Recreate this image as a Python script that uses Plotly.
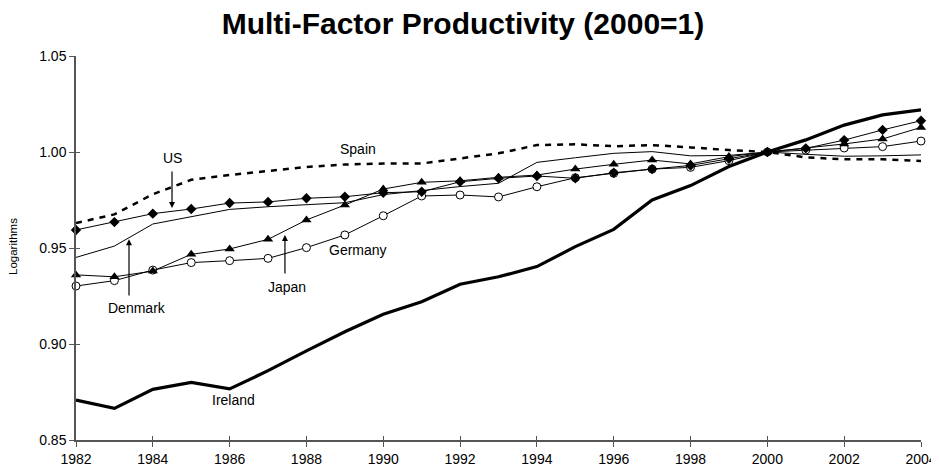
import plotly.graph_objects as go

years = list(range(1982, 2005))

spain = [0.963, 0.9675, 0.978, 0.9855, 0.988, 0.990, 0.9922, 0.9935, 0.9940, 0.9940, 0.9967, 0.9993,
         1.0036, 1.0040, 1.0030, 1.0036, 1.0024, 1.0010, 1.0000, 0.9972, 0.9962, 0.9962, 0.9953]
us = [0.9594, 0.9635, 0.9679, 0.9703, 0.9734, 0.9740, 0.9759, 0.9767, 0.9788, 0.9793, 0.9845, 0.9863,
      0.9875, 0.9863, 0.9892, 0.9911, 0.9930, 0.9965, 1.0000, 1.0019, 1.0062, 1.0115, 1.0163]
japan = [0.9360, 0.9350, 0.9380, 0.9467, 0.9495, 0.9545, 0.9646, 0.9724, 0.9807, 0.9842, 0.9850, 0.9868,
         0.9880, 0.9911, 0.9936, 0.9958, 0.9938, 0.9976, 1.0000, 1.0020, 1.0042, 1.0068, 1.0128]
germany = [0.9302, 0.9330, 0.9385, 0.9424, 0.9434, 0.9446, 0.9502, 0.9568, 0.9668, 0.9771, 0.9776, 0.9766,
           0.9819, 0.9866, 0.9889, 0.9911, 0.9920, 0.9955, 1.0000, 1.0010, 1.0021, 1.0028, 1.0057]
denmark = [0.9451, 0.9510, 0.9625, 0.9663, 0.9701, 0.9715, 0.9726, 0.9736, 0.9778, 0.9800, 0.9820, 0.9837,
           0.9946, 0.9970, 0.9993, 1.0002, 0.9980, 0.9982, 1.0000, 0.9988, 0.9978, 0.9980, 0.9985]
ireland = [0.8708, 0.8665, 0.8764, 0.8800, 0.8766, 0.8861, 0.8964, 0.9064, 0.9155, 0.9220, 0.9311, 0.9350,
           0.9403, 0.9507, 0.9597, 0.9750, 0.9825, 0.9924, 1.0000, 1.0063, 1.0140, 1.0193, 1.0219]

x_ticks = list(range(1982, 2005, 2))
y_ticks = [0.85, 0.90, 0.95, 1.00, 1.05]

FONT = "Arial, Liberation Sans, sans-serif"
W, H = 931, 461  # page body has an 8px margin

fig = go.Figure()
fig.add_trace(go.Scatter(x=years, y=spain, mode="lines", name="Spain",
                         line=dict(color="black", width=2.5, dash="6px,6px"), cliponaxis=False))
fig.add_trace(go.Scatter(x=years, y=denmark, mode="lines", name="Denmark",
                         line=dict(color="black", width=1), cliponaxis=False))
fig.add_trace(go.Scatter(x=years, y=ireland, mode="lines", name="Ireland",
                         line=dict(color="black", width=3.2), cliponaxis=False))
fig.add_trace(go.Scatter(x=years, y=germany, mode="lines+markers", name="Germany",
                         line=dict(color="black", width=1),
                         marker=dict(symbol="circle", size=8, color="white",
                                     line=dict(color="black", width=1)), cliponaxis=False))
fig.add_trace(go.Scatter(x=years, y=japan, mode="lines+markers", name="Japan",
                         line=dict(color="black", width=1),
                         marker=dict(symbol="triangle-up", size=9, color="black"), cliponaxis=False))
fig.add_trace(go.Scatter(x=years, y=us, mode="lines+markers", name="US",
                         line=dict(color="black", width=1),
                         marker=dict(symbol="diamond", size=8, color="black"), cliponaxis=False))
# invisible trace to activate the overlay tick axes
fig.add_trace(go.Scatter(x=[years[0]], y=[spain[0]], xaxis="x2", yaxis="y2", mode="markers",
                         marker=dict(opacity=0), hoverinfo="skip", showlegend=False))

lab_font = dict(family=FONT, size=14, color="black")
annotations = []
for txt, xx, yy in [("US", 1984.5, 0.9968), ("Spain", 1989.35, 1.0016), ("Denmark", 1983.6, 0.919),
                    ("Japan", 1987.5, 0.9297), ("Germany", 1989.35, 0.949), ("Ireland", 1986.1, 0.8708)]:
    annotations.append(dict(x=xx, y=yy, xref="x", yref="y", text=txt, showarrow=False, font=lab_font))
for xx, yy, ax, ay in [(1984.5, 0.9708, 1984.5, 0.9906), (1983.38, 0.9545, 1983.38, 0.9245),
                       (1987.44, 0.9568, 1987.44, 0.9360)]:
    annotations.append(dict(x=xx, y=yy, ax=ax, ay=ay, xref="x", yref="y", axref="x", ayref="y",
                            text="", showarrow=True, arrowhead=2, arrowsize=1, arrowwidth=1.2,
                            arrowcolor="black"))
annotations.append(dict(x=(13 - 76) / 845, y=(440 - 247) / 384, xref="paper", yref="paper",
                        text="Logarithms", textangle=-90, showarrow=False,
                        font=dict(family=FONT, size=11.5, color="black"),
                        xanchor="center", yanchor="middle"))

fig.update_layout(
    width=W, height=H,
    margin=dict(l=68, r=W - 68 - 845, t=48, b=H - 48 - 384),
    paper_bgcolor="white", plot_bgcolor="white",
    showlegend=False,
    title=dict(text="<b>Multi-Factor Productivity (2000=1)</b>", x=455 / W, xanchor="center",
               y=1 - 15 / H, yanchor="middle",
               font=dict(family=FONT, size=30, color="black")),
    font=dict(family=FONT, size=14, color="black"),
    annotations=annotations,
    xaxis=dict(range=[1982, 2004], tickvals=x_ticks, ticktext=[str(t) for t in x_ticks],
               showgrid=False, zeroline=False, showline=True, linecolor="#555555", linewidth=1.5,
               ticks="outside", ticklen=5, tickcolor="#555555", tickfont=dict(size=14),
               automargin=False),
    yaxis=dict(range=[0.85, 1.05], tickvals=y_ticks, ticktext=[f"{v:.2f}" for v in y_ticks],
               showgrid=False, zeroline=False, showline=True, linecolor="#555555", linewidth=1.5,
               ticks="outside", ticklen=5, tickcolor="#555555", tickfont=dict(size=14),
               automargin=False),
    xaxis2=dict(range=[1982, 2004], overlaying="x", tickvals=x_ticks, showticklabels=False,
                ticks="inside", ticklen=4, tickcolor="#555555", showgrid=False, zeroline=False,
                showline=False, anchor="y", automargin=False),
    yaxis2=dict(range=[0.85, 1.05], overlaying="y", tickvals=y_ticks, showticklabels=False,
                ticks="inside", ticklen=4, tickcolor="#555555", showgrid=False, zeroline=False,
                showline=False, anchor="x", automargin=False),
)

fig.write_html("out.html")
